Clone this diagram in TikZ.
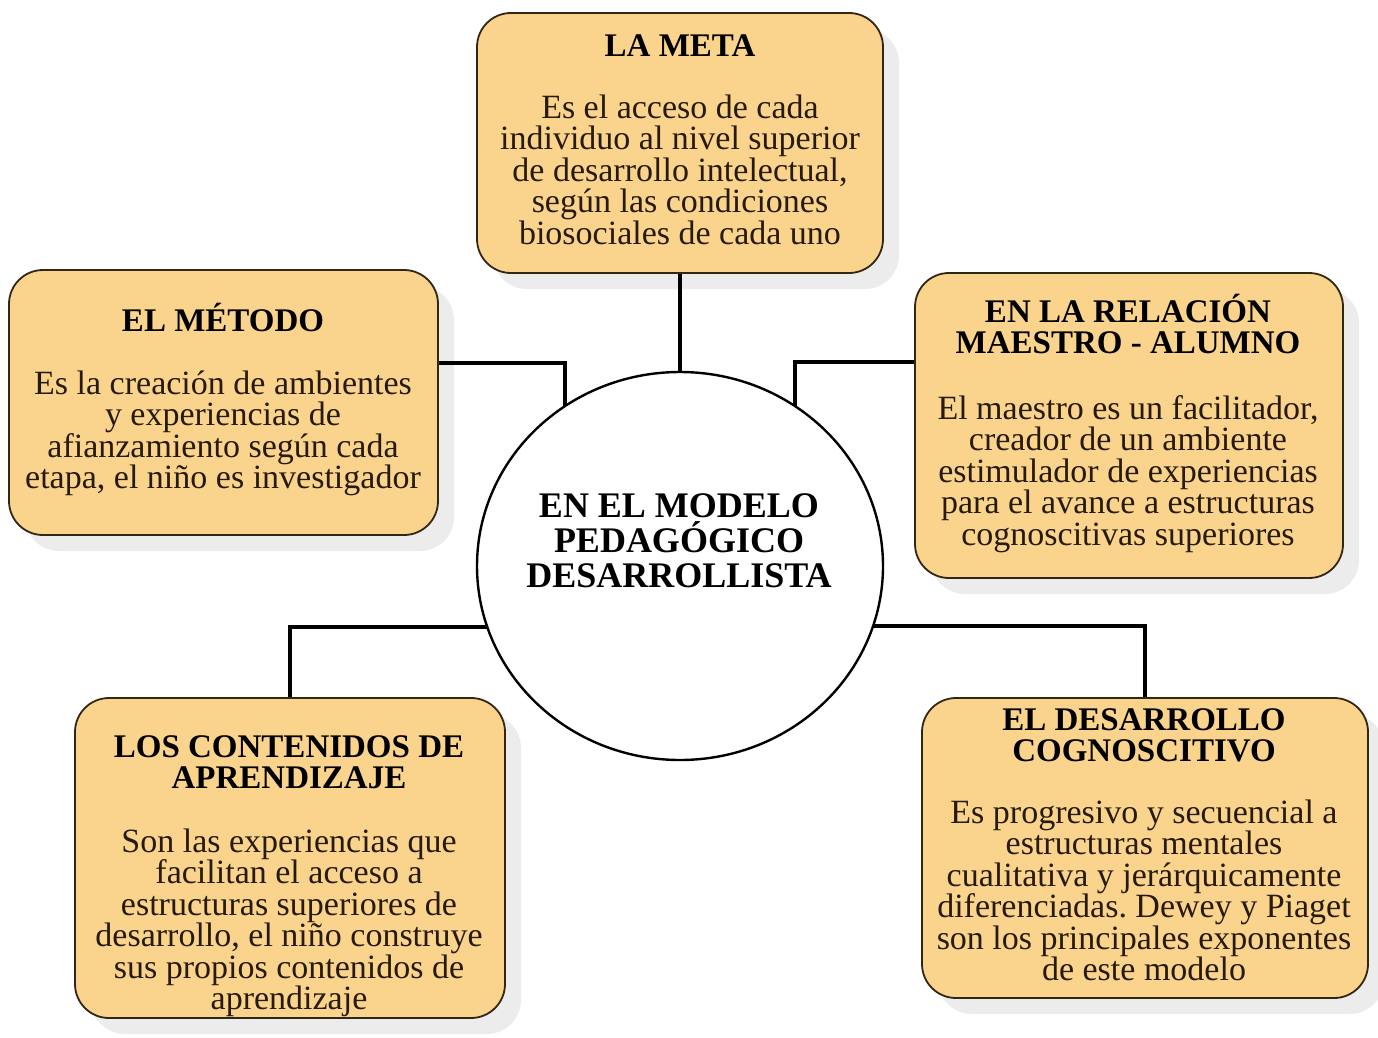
\documentclass[tikz,border=0pt]{standalone}
\usepackage{fontspec}
\setmainfont{Liberation Serif}
\usetikzlibrary{shapes.geometric,shadows}
\definecolor{boxfill}{RGB}{250,212,140}
\definecolor{boxline}{RGB}{50,38,20}
\definecolor{bodytxt}{RGB}{38,26,10}
\definecolor{shadowgray}{RGB}{236,236,236}
\frenchspacing
\begin{document}
\begin{tikzpicture}[x=1pt,y=-1pt,
  box/.style={draw=boxline, line width=1.8pt, fill=boxfill, rounded corners=34pt, inner sep=0pt,
    drop shadow={shadow xshift=16pt, shadow yshift=-16pt, fill=shadowgray, opacity=1}},
  ttl/.style={font=\fontsize{33}{31.5}\selectfont\bfseries, align=center, inner sep=0pt, text=black},
  bodyt/.style={font=\fontsize{34}{31.5}\selectfont, align=center, inner sep=0pt, text=bodytxt},
  hubt/.style={font=\fontsize{36}{35}\selectfont\bfseries, align=center, inner sep=0pt, text=black},
  link/.style={line width=4.5pt, draw=black}]
\useasboundingbox[fill=white] (0,0) rectangle (1378,1038);

% boxes
\node[box, minimum width=406pt, minimum height=260pt] (meta) at (680,143) {};
\node[box, minimum width=429pt, minimum height=265pt] (metodo) at (223.5,402.5) {};
\node[box, minimum width=428pt, minimum height=305pt] (relacion) at (1129,425.5) {};
\node[box, minimum width=430pt, minimum height=320pt] (contenidos) at (290,858) {};
\node[box, minimum width=446pt, minimum height=300pt] (desarrollo) at (1145,848) {};

% elbow coordinates
\coordinate (e1) at (565,363);
\coordinate (e2) at (795,362);
\coordinate (e3) at (290,627);
\coordinate (e4) at (1145,626);

% connectors (hub is drawn on top)
\node[ellipse, minimum width=406pt, minimum height=388pt, inner sep=0pt] (hubpos) at (680,566) {};
\draw[link] (meta.south) -- (hubpos.center);
\draw[link] (metodo.east |- e1) -- (e1) -- (e1 |- hubpos.center);
\draw[link] (relacion.west |- e2) -- (e2) -- (e2 |- hubpos.center);
\draw[link] (contenidos.north) -- (e3) -- (e3 -| hubpos.center);
\draw[link] (desarrollo.north) -- (e4) -- (e4 -| hubpos.center);

% hub
\node[ellipse, draw=black, line width=2.4pt, fill=white, minimum width=406pt, minimum height=388pt, inner sep=0pt] (hub) at (680,566) {};
\node[hubt, anchor=north] (hubtext) at (679,481) {\rule{0pt}{36pt}EN EL MODELO\\PEDAGÓGICO\\DESARROLLISTA};

% texts
\node[ttl, anchor=base] (metaT) at (680,57) {LA META};
\node[bodyt, anchor=north] (metaB) at (680,84) {\rule{0pt}{34pt}Es el acceso de cada\\individuo al nivel superior\\de desarrollo intelectual,\\según las condiciones\\biosociales de cada uno};

\node[ttl, anchor=base] (metodoT) at (223,331) {EL MÉTODO};
\node[bodyt, anchor=north] (metodoB) at (223,360) {\rule{0pt}{34pt}Es la creación de ambientes\\y experiencias de\\afianzamiento según cada\\etapa, el niño es investigador};

\node[ttl, anchor=north] (relacionT) at (1128,289) {\rule{0pt}{33pt}EN LA RELACIÓN\\MAESTRO - ALUMNO};
\node[bodyt, anchor=north] (relacionB) at (1128,385) {\rule{0pt}{34pt}El maestro es un facilitador,\\creador de un ambiente\\estimulador de experiencias\\para el avance a estructuras\\cognoscitivas superiores};

\node[ttl, anchor=north] (contenidosT) at (289,724) {\rule{0pt}{33pt}LOS CONTENIDOS DE\\APRENDIZAJE};
\node[bodyt, anchor=north] (contenidosB) at (289,818) {\rule{0pt}{34pt}Son las experiencias que\\facilitan el acceso a\\estructuras superiores de\\desarrollo, el niño construye\\sus propios contenidos de\\aprendizaje};

\node[ttl, anchor=north] (desarrolloT) at (1144,697) {\rule{0pt}{33pt}EL DESARROLLO\\COGNOSCITIVO};
\node[bodyt, anchor=north] (desarrolloB) at (1144,789) {\rule{0pt}{34pt}Es progresivo y secuencial a\\estructuras mentales\\cualitativa y jerárquicamente\\diferenciadas. Dewey y Piaget\\son los principales exponentes\\de este modelo};
\end{tikzpicture}
\end{document}
